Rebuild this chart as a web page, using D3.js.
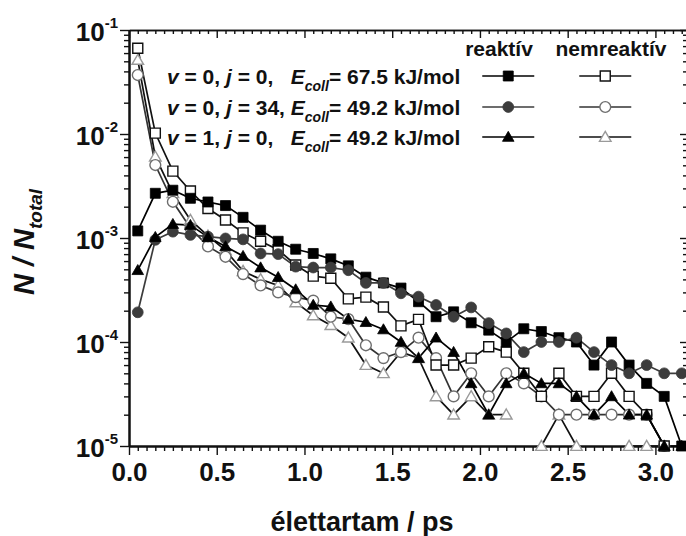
<!DOCTYPE html>
<html>
<head>
<meta charset="utf-8">
<script src="https://cdn.jsdelivr.net/npm/d3@7"></script>
<style>
  body { margin: 0; background: #fff; }
  svg text { font-family: "Liberation Sans Narrow", "Arial Narrow", "Liberation Sans", Arial, sans-serif; font-weight: bold; fill: #111; }
  .leg { white-space: pre; }
</style>
</head>
<body>
<script>
/*
 * lifetime distributions, reactive / non-reactive
 */

// bin centres (ps)
let times = [0.05, 0.15, 0.25, 0.35, 0.45, 0.55, 0.65, 0.75, 0.85, 0.95, 1.05, 1.15, 1.25, 1.35, 1.45, 1.55,
             1.65, 1.75, 1.85, 1.95, 2.05, 2.15, 2.25, 2.35, 2.45, 2.55, 2.65, 2.75, 2.85, 2.95, 3.05, 3.15];

// v=0, j=0, Ecoll=67.5
let reakt00 = [1.17e-3, 2.69e-3, 2.88e-3, 2.41e-3, 2.22e-3, 2.05e-3, 1.58e-3, 1.19e-3, 9.3e-4, 7.8e-4, 7.1e-4, 6.3e-4,
               5.4e-4, 4.2e-4, 3.7e-4, 3.3e-4, 2.44e-4, 1.75e-4, 1.95e-4, 1.53e-4, 1.3e-4, 1.0e-4, 1.34e-4, 1.26e-4,
               1.1e-4, 1.0e-4, 6e-5, 1.0e-4, 6e-5, 4e-5, 3e-5, 1e-5];
let nemreakt00 = [6.67e-2, 1.02e-2, 4.4e-3, 2.83e-3, 1.92e-3, 1.49e-3, 1.12e-3, 9.3e-4, 7.7e-4, 5.5e-4, 4.3e-4, 4.1e-4,
                  2.6e-4, 2.7e-4, 2.17e-4, 1.43e-4, 1.65e-4, 6e-5, 6e-5, 7e-5, 9e-5, 8e-5, 5e-5, 3e-5,
                  5e-5, 3e-5, 3e-5, 5e-5, 3e-5, 2e-5, 1e-5, null];
// v=0, j=34, Ecoll=49.2
let reakt034 = [1.93e-4, 9.6e-4, 1.15e-3, 1.07e-3, 1.03e-3, 9.9e-4, 9.7e-4, 7.1e-4, 7.0e-4, 5.3e-4, 5.2e-4, 5.2e-4,
                4.9e-4, 3.7e-4, 3.7e-4, 2.94e-4, 2.73e-4, 2.27e-4, 1.75e-4, 2.15e-4, 1.52e-4, 1.21e-4, 8e-5, 1.0e-4,
                1.0e-4, 1.1e-4, 8e-5, 6e-5, 5e-5, 6e-5, 5e-5, 5e-5];
let nemreakt034 = [3.69e-2, 5.03e-3, 2.23e-3, 1.25e-3, 8.3e-4, 6.6e-4, 4.5e-4, 3.5e-4, 3.0e-4, 2.7e-4, 2.5e-4, 1.75e-4,
                   1.66e-4, 9.3e-5, 7e-5, 8e-5, 1.1e-4, 7e-5, 3e-5, 5e-5, 3e-5, 5e-5, 4e-5, 3e-5,
                   2e-5, 2e-5, 2e-5, 2e-5, 2e-5, 2e-5, 1e-5, null];
// v=1, j=0, Ecoll=49.2
let reakt10 = [4.9e-4, 1.02e-3, 1.36e-3, 1.33e-3, 1.02e-3, 8.3e-4, 6.7e-4, 5.2e-4, 4.2e-4, 3.2e-4, 2.27e-4, 2.19e-4,
               1.66e-4, 1.55e-4, 1.32e-4, 1.0e-4, 7e-5, 1.1e-4, 8e-5, 4e-5, 2e-5, 4e-5, 5e-5, 4e-5,
               4e-5, 3e-5, 2e-5, 3e-5, 2e-5, 2e-5, 1e-5, 1e-5];
let nemreakt10 = [5.15e-2, 6.05e-3, 2.69e-3, 1.49e-3, 1.05e-3, 7.6e-4, 4.8e-4, 4.0e-4, 3.5e-4, 2.4e-4, 1.8e-4, 1.45e-4,
                  1.1e-4, 6e-5, 5e-5, 8e-5, 7e-5, 3e-5, 2e-5, 3e-5, 2e-5, 2e-5, null, 1e-5,
                  2e-5, 1e-5, null, null, 1e-5, 1e-5, 1e-5, null];

let xTicks = [0.0, 0.5, 1.0, 1.5, 2.0, 2.5, 3.0];
let yTicks = [1e-5, 1e-4, 1e-3, 1e-2, 1e-1];
let yTickExp = ['-5', '-4', '-3', '-2', '-1'];

let legendRows = [
  { v: '0', j: '0', gap: '   ', E: '67.5' },
  { v: '0', j: '34', gap: ' ', E: '49.2' },
  { v: '1', j: '0', gap: '   ', E: '49.2' }
];

// series: drawing order matters (later on top)
let series = [
  { name: 'nemreakt10', data: nemreakt10, shape: 'triangle', fill: '#fff', stroke: '#9a9a9a', line: '#111', row: 2, open: true },
  { name: 'nemreakt034', data: nemreakt034, shape: 'circle', fill: '#fff', stroke: '#6e6e6e', line: '#333', row: 1, open: true },
  { name: 'nemreakt00', data: nemreakt00, shape: 'square', fill: '#fff', stroke: '#111', line: '#111', row: 0, open: true },
  { name: 'reakt00', data: reakt00, shape: 'square', fill: '#000', stroke: '#000', line: '#000', row: 0, open: false },
  { name: 'reakt034', data: reakt034, shape: 'circle', fill: '#3c3c3c', stroke: '#3c3c3c', line: '#3c3c3c', row: 1, open: false },
  { name: 'reakt10', data: reakt10, shape: 'triangle', fill: '#000', stroke: '#000', line: '#000', row: 2, open: false }
];

let svgWidth = 686;
let svgHeight = 536;
let margin = { top: 30, right: -1, bottom: 90, left: 129 };
let x0 = margin.left, x1 = svgWidth - margin.right;
let yTop = margin.top, yBot = svgHeight - margin.bottom;

let svg = d3.select('body').append('svg')
  .attr('width', svgWidth)
  .attr('height', svgHeight);

let xScale = d3.scaleLinear().domain([0, 3.18]).range([x0, x1]);
let yScale = d3.scaleLog().domain([1e-5, 1e-1]).range([yBot, yTop]);

let xMinor = d3.range(0.05, 3.18, 0.05).filter(v => Math.abs(v * 2 - Math.round(v * 2)) > 1e-6);
let yMinor = [];
yTicks.slice(0, 4).forEach(d => { for (let k = 2; k <= 9; k++) yMinor.push(d * k); });

function styleAxis(g, w) {
  g.select('.domain').attr('stroke', '#111').attr('stroke-width', w);
  g.selectAll('.tick line').attr('stroke', '#111').attr('stroke-width', 1.4);
}

// bottom
svg.append('g').attr('transform', `translate(0,${yBot})`)
  .call(d3.axisBottom(xScale).tickValues(xMinor).tickSize(5).tickSizeOuter(0).tickFormat(''))
  .call(g => styleAxis(g, 2));
let xAx = svg.append('g').attr('transform', `translate(0,${yBot})`)
  .call(d3.axisBottom(xScale).tickValues(xTicks).tickSize(9).tickSizeOuter(0).tickPadding(8).tickFormat(d3.format('.1f')))
  .call(g => styleAxis(g, 2));
xAx.selectAll('text').attr('font-size', 26).attr('fill', '#111');

// top
svg.append('g').attr('transform', `translate(0,${yTop})`)
  .call(d3.axisTop(xScale).tickValues(xMinor).tickSize(-4).tickSizeOuter(0).tickFormat(''))
  .call(g => styleAxis(g, 1.6));
svg.append('g').attr('transform', `translate(0,${yTop})`)
  .call(d3.axisTop(xScale).tickValues(xTicks).tickSize(-8).tickSizeOuter(0).tickFormat(''))
  .call(g => styleAxis(g, 1.6));

// left
svg.append('g').attr('transform', `translate(${x0},0)`)
  .call(d3.axisLeft(yScale).tickValues(yMinor).tickSize(5).tickSizeOuter(0).tickFormat(''))
  .call(g => styleAxis(g, 2));
svg.append('g').attr('transform', `translate(${x0},0)`)
  .call(d3.axisLeft(yScale).tickValues(yTicks).tickSize(9).tickSizeOuter(0).tickFormat(''))
  .call(g => styleAxis(g, 2));

// right (mostly off the edge)
svg.append('g').attr('transform', `translate(${x1},0)`)
  .call(d3.axisRight(yScale).tickValues(yMinor).tickSize(-4).tickSizeOuter(0).tickFormat(''))
  .call(g => styleAxis(g, 1.6));
svg.append('g').attr('transform', `translate(${x1},0)`)
  .call(d3.axisRight(yScale).tickValues(yTicks).tickSize(-7).tickSizeOuter(0).tickFormat(''))
  .call(g => styleAxis(g, 1.6));

// y tick labels 10^n
let yLab = svg.append('g').selectAll('text')
  .data(yTicks)
  .enter()
  .append('text')
    .attr('x', 118)
    .attr('y', d => yScale(d) + 11)
    .attr('text-anchor', 'end')
    .attr('font-size', 26);
yLab.append('tspan').text('10');
yLab.append('tspan').attr('font-size', 15).attr('dy', -13).text((d, i) => yTickExp[i]);

// axis titles
svg.append('text')
  .attr('x', 362)
  .attr('y', 531)
  .attr('text-anchor', 'middle')
  .attr('font-size', 27)
  .text('élettartam / ps');

let yTitle = svg.append('text')
  .attr('transform', 'translate(34,242) rotate(-90)')
  .attr('text-anchor', 'middle')
  .attr('font-size', 29)
  .attr('font-style', 'italic');
yTitle.append('tspan').text('N / N');
yTitle.append('tspan').attr('font-size', 19).attr('dy', 8).text('total');

// lines and markers
let line = d3.line()
  .defined(d => d.v != null)
  .x(d => xScale(d.t))
  .y(d => yScale(d.v));

let shapes = { square: d3.symbolSquare, circle: d3.symbolCircle, triangle: d3.symbolTriangle };
let sizes = { square: 100, circle: 92, triangle: 58 };

function symbolPath(s) {
  return d3.symbol().type(shapes[s.shape]).size(sizes[s.shape])();
}

series.forEach(s => {
  let pts = s.data.map((v, i) => ({ t: times[i], v: v }));
  svg.append('path')
    .datum(pts)
    .attr('fill', 'none')
    .attr('stroke', s.line)
    .attr('stroke-width', 1.7)
    .attr('d', line);
});

series.forEach(s => {
  let pts = s.data.map((v, i) => ({ t: times[i], v: v })).filter(d => d.v != null);
  svg.append('g').selectAll('path')
    .data(pts)
    .enter()
    .append('path')
      .attr('transform', d => `translate(${xScale(d.t)},${yScale(d.v) + (s.shape === 'triangle' ? 1 : 0)})`)
      .attr('d', symbolPath(s))
      .attr('fill', s.fill)
      .attr('stroke', s.stroke)
      .attr('stroke-width', s.open ? 1.4 : 0.8);
});

// legend
let leg = svg.append('g');
leg.append('text').attr('x', 499).attr('y', 56).attr('text-anchor', 'middle').attr('font-size', 21).text('reaktív');
leg.append('text').attr('x', 611).attr('y', 56).attr('text-anchor', 'middle').attr('font-size', 21).text('nemreaktív');

let rowY = [76, 107, 137];
legendRows.forEach((r, i) => {
  let t = leg.append('text').attr('class', 'leg')
    .attr('x', 167).attr('y', rowY[i] + 7.5).attr('font-size', 21);
  t.append('tspan').attr('font-style', 'italic').text('v');
  t.append('tspan').text(' = ' + r.v + ', ');
  t.append('tspan').attr('font-style', 'italic').text('j');
  t.append('tspan').text(' = ' + r.j + ',' + r.gap);
  t.append('tspan').attr('font-style', 'italic').text('E');
  t.append('tspan').attr('font-style', 'italic').attr('font-size', 14).attr('dy', 7).text('coll');
  t.append('tspan').attr('dy', -7).text('= ' + r.E + ' kJ/mol');

  let end = 167 + t.node().getComputedTextLength();
  let cx = [end + 48, end + 48 + 97];
  series.filter(s => s.row === i).forEach(s => {
    let c = s.open ? cx[1] : cx[0];
    leg.append('line')
      .attr('x1', c - 26).attr('x2', c + 26)
      .attr('y1', rowY[i]).attr('y2', rowY[i])
      .attr('stroke', s.line).attr('stroke-width', 1.7);
    leg.append('path')
      .attr('transform', `translate(${c},${rowY[i] + (s.shape === 'triangle' ? 1 : 0)})`)
      .attr('d', symbolPath(s))
      .attr('fill', s.fill)
      .attr('stroke', s.stroke)
      .attr('stroke-width', s.open ? 1.4 : 0.8);
  });
});
</script>
</body>
</html>
